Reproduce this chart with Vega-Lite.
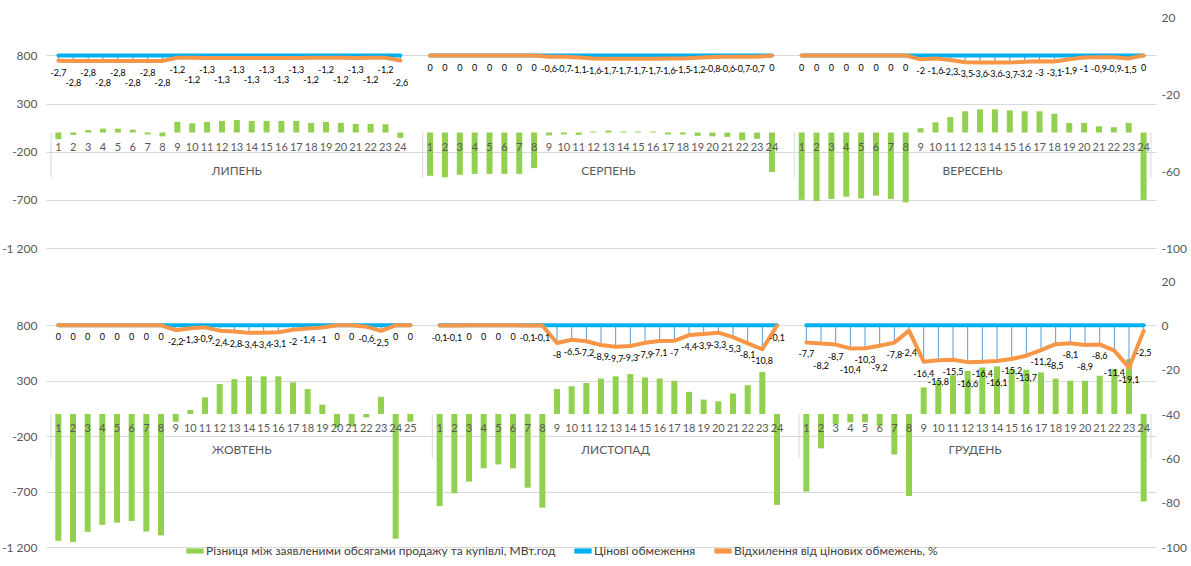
{
"$schema": "https://vega.github.io/schema/vega-lite/v6.json",
"padding": {"left": 1, "top": 11, "right": 0, "bottom": 0},
"background": "white",
"spacing": 33,
"bounds": "flush",
"resolve": {"legend": {"color": "independent"}},
"datasets": {
"top": [
{"m":"ЛИПЕНЬ","i":0,"h":1,"v":-70,"p":-2.7,"lim":0},
{"m":"ЛИПЕНЬ","i":1,"h":2,"v":-25,"p":-2.8,"lim":0},
{"m":"ЛИПЕНЬ","i":2,"h":3,"v":25,"p":-2.8,"lim":0},
{"m":"ЛИПЕНЬ","i":3,"h":4,"v":40,"p":-2.8,"lim":0},
{"m":"ЛИПЕНЬ","i":4,"h":5,"v":40,"p":-2.8,"lim":0},
{"m":"ЛИПЕНЬ","i":5,"h":6,"v":30,"p":-2.8,"lim":0},
{"m":"ЛИПЕНЬ","i":6,"h":7,"v":-20,"p":-2.8,"lim":0},
{"m":"ЛИПЕНЬ","i":7,"h":8,"v":-40,"p":-2.8,"lim":0},
{"m":"ЛИПЕНЬ","i":8,"h":9,"v":110,"p":-1.2,"lim":0},
{"m":"ЛИПЕНЬ","i":9,"h":10,"v":95,"p":-1.2,"lim":0},
{"m":"ЛИПЕНЬ","i":10,"h":11,"v":110,"p":-1.3,"lim":0},
{"m":"ЛИПЕНЬ","i":11,"h":12,"v":120,"p":-1.3,"lim":0},
{"m":"ЛИПЕНЬ","i":12,"h":13,"v":130,"p":-1.3,"lim":0},
{"m":"ЛИПЕНЬ","i":13,"h":14,"v":120,"p":-1.3,"lim":0},
{"m":"ЛИПЕНЬ","i":14,"h":15,"v":120,"p":-1.3,"lim":0},
{"m":"ЛИПЕНЬ","i":15,"h":16,"v":120,"p":-1.3,"lim":0},
{"m":"ЛИПЕНЬ","i":16,"h":17,"v":120,"p":-1.3,"lim":0},
{"m":"ЛИПЕНЬ","i":17,"h":18,"v":100,"p":-1.2,"lim":0},
{"m":"ЛИПЕНЬ","i":18,"h":19,"v":110,"p":-1.2,"lim":0},
{"m":"ЛИПЕНЬ","i":19,"h":20,"v":100,"p":-1.2,"lim":0},
{"m":"ЛИПЕНЬ","i":20,"h":21,"v":90,"p":-1.3,"lim":0},
{"m":"ЛИПЕНЬ","i":21,"h":22,"v":90,"p":-1.2,"lim":0},
{"m":"ЛИПЕНЬ","i":22,"h":23,"v":85,"p":-1.2,"lim":0},
{"m":"ЛИПЕНЬ","i":23,"h":24,"v":-55,"p":-2.6,"lim":0},
{"m":"ЛИПЕНЬ","i":24},
{"m":"СЕРПЕНЬ","i":25,"h":1,"v":-450,"p":0,"lim":0},
{"m":"СЕРПЕНЬ","i":26,"h":2,"v":-465,"p":0,"lim":0},
{"m":"СЕРПЕНЬ","i":27,"h":3,"v":-440,"p":0,"lim":0},
{"m":"СЕРПЕНЬ","i":28,"h":4,"v":-430,"p":0,"lim":0},
{"m":"СЕРПЕНЬ","i":29,"h":5,"v":-430,"p":0,"lim":0},
{"m":"СЕРПЕНЬ","i":30,"h":6,"v":-430,"p":0,"lim":0},
{"m":"СЕРПЕНЬ","i":31,"h":7,"v":-430,"p":0,"lim":0},
{"m":"СЕРПЕНЬ","i":32,"h":8,"v":-370,"p":0,"lim":0},
{"m":"СЕРПЕНЬ","i":33,"h":9,"v":-30,"p":-0.6,"lim":0},
{"m":"СЕРПЕНЬ","i":34,"h":10,"v":-20,"p":-0.7,"lim":0},
{"m":"СЕРПЕНЬ","i":35,"h":11,"v":-25,"p":-1.1,"lim":0},
{"m":"СЕРПЕНЬ","i":36,"h":12,"v":10,"p":-1.6,"lim":0},
{"m":"СЕРПЕНЬ","i":37,"h":13,"v":20,"p":-1.7,"lim":0},
{"m":"СЕРПЕНЬ","i":38,"h":14,"v":10,"p":-1.7,"lim":0},
{"m":"СЕРПЕНЬ","i":39,"h":15,"v":10,"p":-1.7,"lim":0},
{"m":"СЕРПЕНЬ","i":40,"h":16,"v":10,"p":-1.7,"lim":0},
{"m":"СЕРПЕНЬ","i":41,"h":17,"v":-20,"p":-1.6,"lim":0},
{"m":"СЕРПЕНЬ","i":42,"h":18,"v":-20,"p":-1.5,"lim":0},
{"m":"СЕРПЕНЬ","i":43,"h":19,"v":-35,"p":-1.2,"lim":0},
{"m":"СЕРПЕНЬ","i":44,"h":20,"v":-40,"p":-0.8,"lim":0},
{"m":"СЕРПЕНЬ","i":45,"h":21,"v":-45,"p":-0.6,"lim":0},
{"m":"СЕРПЕНЬ","i":46,"h":22,"v":-80,"p":-0.7,"lim":0},
{"m":"СЕРПЕНЬ","i":47,"h":23,"v":-65,"p":-0.7,"lim":0},
{"m":"СЕРПЕНЬ","i":48,"h":24,"v":-410,"p":0,"lim":0},
{"m":"СЕРПЕНЬ","i":49},
{"m":"ВЕРЕСЕНЬ","i":50,"h":1,"v":-700,"p":0,"lim":0},
{"m":"ВЕРЕСЕНЬ","i":51,"h":2,"v":-712,"p":0,"lim":0},
{"m":"ВЕРЕСЕНЬ","i":52,"h":3,"v":-690,"p":0,"lim":0},
{"m":"ВЕРЕСЕНЬ","i":53,"h":4,"v":-667,"p":0,"lim":0},
{"m":"ВЕРЕСЕНЬ","i":54,"h":5,"v":-684,"p":0,"lim":0},
{"m":"ВЕРЕСЕНЬ","i":55,"h":6,"v":-656,"p":0,"lim":0},
{"m":"ВЕРЕСЕНЬ","i":56,"h":7,"v":-690,"p":0,"lim":0},
{"m":"ВЕРЕСЕНЬ","i":57,"h":8,"v":-726,"p":0,"lim":0},
{"m":"ВЕРЕСЕНЬ","i":58,"h":9,"v":45,"p":-2,"lim":0},
{"m":"ВЕРЕСЕНЬ","i":59,"h":10,"v":105,"p":-1.6,"lim":0},
{"m":"ВЕРЕСЕНЬ","i":60,"h":11,"v":160,"p":-2.3,"lim":0},
{"m":"ВЕРЕСЕНЬ","i":61,"h":12,"v":220,"p":-3.5,"lim":0},
{"m":"ВЕРЕСЕНЬ","i":62,"h":13,"v":240,"p":-3.6,"lim":0},
{"m":"ВЕРЕСЕНЬ","i":63,"h":14,"v":240,"p":-3.6,"lim":0},
{"m":"ВЕРЕСЕНЬ","i":64,"h":15,"v":230,"p":-3.7,"lim":0},
{"m":"ВЕРЕСЕНЬ","i":65,"h":16,"v":220,"p":-3.2,"lim":0},
{"m":"ВЕРЕСЕНЬ","i":66,"h":17,"v":220,"p":-3,"lim":0},
{"m":"ВЕРЕСЕНЬ","i":67,"h":18,"v":195,"p":-3.1,"lim":0},
{"m":"ВЕРЕСЕНЬ","i":68,"h":19,"v":100,"p":-1.9,"lim":0},
{"m":"ВЕРЕСЕНЬ","i":69,"h":20,"v":100,"p":-1,"lim":0},
{"m":"ВЕРЕСЕНЬ","i":70,"h":21,"v":65,"p":-0.9,"lim":0},
{"m":"ВЕРЕСЕНЬ","i":71,"h":22,"v":55,"p":-0.9,"lim":0},
{"m":"ВЕРЕСЕНЬ","i":72,"h":23,"v":100,"p":-1.5,"lim":0},
{"m":"ВЕРЕСЕНЬ","i":73,"h":24,"v":-700,"p":0,"lim":0}
],
"bot": [
{"m":"ЖОВТЕНЬ","i":0,"h":1,"v":-1145,"p":0,"lim":0},
{"m":"ЖОВТЕНЬ","i":1,"h":2,"v":-1155,"p":0,"lim":0},
{"m":"ЖОВТЕНЬ","i":2,"h":3,"v":-1063,"p":0,"lim":0},
{"m":"ЖОВТЕНЬ","i":3,"h":4,"v":-1000,"p":0,"lim":0},
{"m":"ЖОВТЕНЬ","i":4,"h":5,"v":-980,"p":0,"lim":0},
{"m":"ЖОВТЕНЬ","i":5,"h":6,"v":-965,"p":0,"lim":0},
{"m":"ЖОВТЕНЬ","i":6,"h":7,"v":-1060,"p":0,"lim":0},
{"m":"ЖОВТЕНЬ","i":7,"h":8,"v":-1095,"p":0,"lim":0},
{"m":"ЖОВТЕНЬ","i":8,"h":9,"v":-70,"p":-2.2,"lim":0},
{"m":"ЖОВТЕНЬ","i":9,"h":10,"v":35,"p":-1.3,"lim":0},
{"m":"ЖОВТЕНЬ","i":10,"h":11,"v":150,"p":-0.9,"lim":0},
{"m":"ЖОВТЕНЬ","i":11,"h":12,"v":270,"p":-2.4,"lim":0},
{"m":"ЖОВТЕНЬ","i":12,"h":13,"v":315,"p":-2.8,"lim":0},
{"m":"ЖОВТЕНЬ","i":13,"h":14,"v":340,"p":-3.4,"lim":0},
{"m":"ЖОВТЕНЬ","i":14,"h":15,"v":340,"p":-3.4,"lim":0},
{"m":"ЖОВТЕНЬ","i":15,"h":16,"v":340,"p":-3.1,"lim":0},
{"m":"ЖОВТЕНЬ","i":16,"h":17,"v":285,"p":-2.0,"lim":0},
{"m":"ЖОВТЕНЬ","i":17,"h":18,"v":225,"p":-1.4,"lim":0},
{"m":"ЖОВТЕНЬ","i":18,"h":19,"v":85,"p":-1.0,"lim":0},
{"m":"ЖОВТЕНЬ","i":19,"h":20,"v":-120,"p":0,"lim":0},
{"m":"ЖОВТЕНЬ","i":20,"h":21,"v":-110,"p":0,"lim":0},
{"m":"ЖОВТЕНЬ","i":21,"h":22,"v":-30,"p":-0.6,"lim":0},
{"m":"ЖОВТЕНЬ","i":22,"h":23,"v":155,"p":-2.5,"lim":0},
{"m":"ЖОВТЕНЬ","i":23,"h":24,"v":-1125,"p":0,"lim":0},
{"m":"ЖОВТЕНЬ","i":24,"h":25,"v":-70,"p":0,"lim":0},
{"m":"ЖОВТЕНЬ","i":25},
{"m":"ЛИСТОПАД","i":26,"h":1,"v":-830,"p":-0.1,"lim":0},
{"m":"ЛИСТОПАД","i":27,"h":2,"v":-715,"p":-0.1,"lim":0},
{"m":"ЛИСТОПАД","i":28,"h":3,"v":-610,"p":0,"lim":0},
{"m":"ЛИСТОПАД","i":29,"h":4,"v":-490,"p":0,"lim":0},
{"m":"ЛИСТОПАД","i":30,"h":5,"v":-455,"p":0,"lim":0},
{"m":"ЛИСТОПАД","i":31,"h":6,"v":-490,"p":0,"lim":0},
{"m":"ЛИСТОПАД","i":32,"h":7,"v":-665,"p":-0.1,"lim":0},
{"m":"ЛИСТОПАД","i":33,"h":8,"v":-845,"p":-0.1,"lim":0},
{"m":"ЛИСТОПАД","i":34,"h":9,"v":225,"p":-8,"lim":0},
{"m":"ЛИСТОПАД","i":35,"h":10,"v":250,"p":-6.5,"lim":0},
{"m":"ЛИСТОПАД","i":36,"h":11,"v":280,"p":-7.2,"lim":0},
{"m":"ЛИСТОПАД","i":37,"h":12,"v":320,"p":-8.9,"lim":0},
{"m":"ЛИСТОПАД","i":38,"h":13,"v":340,"p":-9.7,"lim":0},
{"m":"ЛИСТОПАД","i":39,"h":14,"v":360,"p":-9.3,"lim":0},
{"m":"ЛИСТОПАД","i":40,"h":15,"v":330,"p":-7.9,"lim":0},
{"m":"ЛИСТОПАД","i":41,"h":16,"v":320,"p":-7.1,"lim":0},
{"m":"ЛИСТОПАД","i":42,"h":17,"v":300,"p":-7,"lim":0},
{"m":"ЛИСТОПАД","i":43,"h":18,"v":200,"p":-4.4,"lim":0},
{"m":"ЛИСТОПАД","i":44,"h":19,"v":130,"p":-3.9,"lim":0},
{"m":"ЛИСТОПАД","i":45,"h":20,"v":115,"p":-3.3,"lim":0},
{"m":"ЛИСТОПАД","i":46,"h":21,"v":185,"p":-5.3,"lim":0},
{"m":"ЛИСТОПАД","i":47,"h":22,"v":260,"p":-8.1,"lim":0},
{"m":"ЛИСТОПАД","i":48,"h":23,"v":380,"p":-10.8,"lim":0},
{"m":"ЛИСТОПАД","i":49,"h":24,"v":-820,"p":-0.1,"lim":0},
{"m":"ЛИСТОПАД","i":50},
{"m":"ГРУДЕНЬ","i":51,"h":1,"v":-700,"p":-7.7,"lim":0},
{"m":"ГРУДЕНЬ","i":52,"h":2,"v":-310,"p":-8.2,"lim":0},
{"m":"ГРУДЕНЬ","i":53,"h":3,"v":-90,"p":-8.7,"lim":0},
{"m":"ГРУДЕНЬ","i":54,"h":4,"v":-75,"p":-10.4,"lim":0},
{"m":"ГРУДЕНЬ","i":55,"h":5,"v":-75,"p":-10.3,"lim":0},
{"m":"ГРУДЕНЬ","i":56,"h":6,"v":-110,"p":-9.2,"lim":0},
{"m":"ГРУДЕНЬ","i":57,"h":7,"v":-365,"p":-7.8,"lim":0},
{"m":"ГРУДЕНЬ","i":58,"h":8,"v":-740,"p":-2.4,"lim":0},
{"m":"ГРУДЕНЬ","i":59,"h":9,"v":240,"p":-16.4,"lim":0},
{"m":"ГРУДЕНЬ","i":60,"h":10,"v":300,"p":-15.8,"lim":0},
{"m":"ГРУДЕНЬ","i":61,"h":11,"v":350,"p":-15.5,"lim":0},
{"m":"ГРУДЕНЬ","i":62,"h":12,"v":390,"p":-16.6,"lim":0},
{"m":"ГРУДЕНЬ","i":63,"h":13,"v":420,"p":-16.4,"lim":0},
{"m":"ГРУДЕНЬ","i":64,"h":14,"v":430,"p":-16.1,"lim":0},
{"m":"ГРУДЕНЬ","i":65,"h":15,"v":405,"p":-15.2,"lim":0},
{"m":"ГРУДЕНЬ","i":66,"h":16,"v":400,"p":-13.7,"lim":0},
{"m":"ГРУДЕНЬ","i":67,"h":17,"v":375,"p":-11.2,"lim":0},
{"m":"ГРУДЕНЬ","i":68,"h":18,"v":320,"p":-8.5,"lim":0},
{"m":"ГРУДЕНЬ","i":69,"h":19,"v":300,"p":-8.1,"lim":0},
{"m":"ГРУДЕНЬ","i":70,"h":20,"v":300,"p":-8.9,"lim":0},
{"m":"ГРУДЕНЬ","i":71,"h":21,"v":345,"p":-8.6,"lim":0},
{"m":"ГРУДЕНЬ","i":72,"h":22,"v":405,"p":-11.4,"lim":0},
{"m":"ГРУДЕНЬ","i":73,"h":23,"v":495,"p":-19.1,"lim":0},
{"m":"ГРУДЕНЬ","i":74,"h":24,"v":-790,"p":-2.5,"lim":0}
]
},
"vconcat": [
{
"width": 1110, "height": 231,
"data": {"name": "top"},
"encoding": {"x": {"field": "i", "type": "quantitative", "scale": {"domain": [-0.5, 73.5], "nice": false, "zero": false}, "axis": null}},
"layer": [
{"layer": [
{"mark": {"type": "bar", "orient": "vertical", "width": 6, "color": "#92D050"},
 "encoding": {"y": {"field": "v", "type": "quantitative", "title": null, "scale": {"domain": [-1200, 1200], "nice": false}, "axis": {"values": [-1200, -700, -200, 300, 800], "format": ",d", "grid": true, "orient": "left", "labelPadding": 9, "title": null}}}},
{"data": {"values": [{"s": -0.5}, {"s": 24.5}, {"s": 49.5}, {"s": 73.5}]},
 "mark": {"type": "rule", "color": "#d9d9d9", "strokeWidth": 1},
 "encoding": {"x": {"field": "s", "type": "quantitative"}, "y": {"datum": 0, "title": null}, "y2": {"datum": -470}}},
{"transform": [{"filter": "isValid(datum.h)"}],
 "mark": {"type": "text", "dy": 15, "fontSize": 11, "color": "#595959", "baseline": "middle"},
 "encoding": {"y": {"datum": 0, "title": null}, "text": {"field": "h", "type": "nominal"}}},
{"mark": {"type": "text", "dy": 38, "fontSize": 12, "color": "#595959", "baseline": "middle"},
 "encoding": {"x": {"aggregate": "mean", "field": "i", "type": "quantitative"}, "y": {"datum": 0, "title": null}, "text": {"field": "m", "type": "nominal"}}}
]},
{"layer": [
{"mark": {"type": "rule", "color": "#5B9BD5", "strokeWidth": 1},
 "encoding": {"y": {"field": "lim", "type": "quantitative", "title": null, "scale": {"domain": [-100, 20], "nice": false}, "axis": {"values": [-100, -80, -60, -40, -20, 0, 20], "format": "d", "orient": "right", "grid": false, "labelPadding": 5, "title": null}}, "y2": {"field": "p"}}},
{"mark": {"type": "line", "color": "#00B0F0", "strokeWidth": 4, "strokeCap": "round"},
 "encoding": {"y": {"field": "lim", "type": "quantitative", "title": null}, "detail": {"field": "m"}}},
{"mark": {"type": "line", "color": "#F79646", "strokeWidth": 4, "strokeCap": "round", "strokeJoin": "round"},
 "encoding": {"y": {"field": "p", "type": "quantitative", "title": null}, "detail": {"field": "m"}}},
{"transform": [{"filter": "isValid(datum.p) && (datum.m != 'ЛИПЕНЬ' || datum.h % 2 == 1)"}],
 "mark": {"type": "text", "dy": 12, "fontSize": 9, "color": "#000000", "baseline": "middle"},
 "encoding": {"y": {"field": "p", "type": "quantitative", "title": null}, "text": {"field": "p", "type": "quantitative", "format": ".1~f"}}},
{"transform": [{"filter": "isValid(datum.p) && datum.m == 'ЛИПЕНЬ' && datum.h % 2 == 0"}],
 "mark": {"type": "text", "dy": 22, "fontSize": 9, "color": "#000000", "baseline": "middle"},
 "encoding": {"y": {"field": "p", "type": "quantitative", "title": null}, "text": {"field": "p", "type": "quantitative", "format": ".1~f"}}}
]}
],
"resolve": {"scale": {"y": "independent"}}
},
{
"width": 1110, "height": 266,
"data": {"name": "bot"},
"encoding": {"x": {"field": "i", "type": "quantitative", "scale": {"domain": [-0.5, 74.5], "nice": false, "zero": false}, "axis": null}},
"layer": [
{"layer": [
{"mark": {"type": "bar", "orient": "vertical", "width": 6},
 "encoding": {"y": {"field": "v", "type": "quantitative", "title": null, "scale": {"domain": [-1200, 1200], "nice": false}, "axis": {"values": [-1200, -700, -200, 300, 800], "format": ",d", "grid": true, "orient": "left", "labelPadding": 9, "title": null}},
  "color": {"datum": "Різниця між заявленими обсягами продажу та купівлі, МВт.год",
   "scale": {"domain": ["Різниця між заявленими обсягами продажу та купівлі, МВт.год", "Цінові обмеження", "Відхилення від цінових обмежень, %"], "range": ["#92D050", "#00B0F0", "#F79646"]},
   "legend": {"orient": "none", "legendX": 140, "legendY": 261, "direction": "horizontal", "title": null, "symbolType": "M-1,-0.3L1,-0.3L1,0.3L-1,0.3Z", "symbolSize": 300, "symbolStrokeWidth": 0, "labelFontSize": 12, "labelColor": "#404040", "labelFont": "Lato", "labelLimit": 0, "columnPadding": 18, "labelOffset": 2}}}},
{"data": {"values": [{"s": -0.5}, {"s": 25.5}, {"s": 50.5}, {"s": 74.5}]},
 "mark": {"type": "rule", "color": "#d9d9d9", "strokeWidth": 1},
 "encoding": {"x": {"field": "s", "type": "quantitative"}, "y": {"datum": 0, "title": null}, "y2": {"datum": -400}}},
{"transform": [{"filter": "isValid(datum.h)"}],
 "mark": {"type": "text", "dy": 15, "fontSize": 11, "color": "#595959", "baseline": "middle"},
 "encoding": {"y": {"datum": 0, "title": null}, "text": {"field": "h", "type": "nominal"}}},
{"mark": {"type": "text", "dy": 36, "fontSize": 12, "color": "#595959", "baseline": "middle"},
 "encoding": {"x": {"aggregate": "mean", "field": "i", "type": "quantitative"}, "y": {"datum": 0, "title": null}, "text": {"field": "m", "type": "nominal"}}}
]},
{"layer": [
{"mark": {"type": "rule", "color": "#5B9BD5", "strokeWidth": 1},
 "encoding": {"y": {"field": "lim", "type": "quantitative", "title": null, "scale": {"domain": [-100, 20], "nice": false}, "axis": {"values": [-100, -80, -60, -40, -20, 0, 20], "format": "d", "orient": "right", "grid": false, "labelPadding": 5, "title": null}}, "y2": {"field": "p"}}},
{"mark": {"type": "line", "color": "#00B0F0", "strokeWidth": 4, "strokeCap": "round"},
 "encoding": {"y": {"field": "lim", "type": "quantitative", "title": null}, "detail": {"field": "m"}}},
{"mark": {"type": "line", "color": "#F79646", "strokeWidth": 4, "strokeCap": "round", "strokeJoin": "round"},
 "encoding": {"y": {"field": "p", "type": "quantitative", "title": null}, "detail": {"field": "m"}}},
{"transform": [{"filter": "isValid(datum.p) && (datum.m != 'ГРУДЕНЬ' || datum.h % 2 == 1)"}],
 "mark": {"type": "text", "dy": 12, "fontSize": 9, "color": "#000000", "baseline": "middle"},
 "encoding": {"y": {"field": "p", "type": "quantitative", "title": null}, "text": {"field": "p", "type": "quantitative", "format": ".1~f"}}},
{"transform": [{"filter": "isValid(datum.p) && datum.m == 'ГРУДЕНЬ' && datum.h % 2 == 0"}],
 "mark": {"type": "text", "dy": 22, "fontSize": 9, "color": "#000000", "baseline": "middle"},
 "encoding": {"y": {"field": "p", "type": "quantitative", "title": null}, "text": {"field": "p", "type": "quantitative", "format": ".1~f"}}}
]}
],
"resolve": {"scale": {"y": "independent"}}
}
],
"config": {
"view": {"stroke": null},
"font": "Lato",
"locale": {"number": {"decimal": ",", "thousands": " ", "grouping": [3], "currency": ["", ""], "minus": "-"}},
"axis": {"labelFont": "Lato", "labelFontSize": 12, "labelColor": "#595959", "ticks": false, "domain": false, "gridColor": "#d9d9d9", "gridWidth": 1}
}
}
